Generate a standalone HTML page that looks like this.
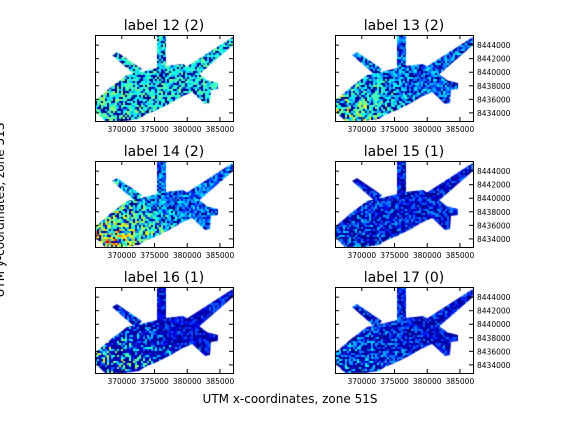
<!DOCTYPE html>
<html><head><meta charset="utf-8"><style>
html,body{margin:0;padding:0;background:#fff;}
#wrap{position:relative;width:576px;height:432px;overflow:hidden;}
canvas,svg{position:absolute;left:0;top:0;}
text{font-family:"DejaVu Sans","Liberation Sans",sans-serif;}
</style></head><body>
<div id="wrap">
<canvas id="cv" width="576" height="432"></canvas>
<svg id="sv" width="576" height="432"></svg>
</div>
<script>
// data
const panelTitles = ["label 12 (2)","label 13 (2)","label 14 (2)","label 15 (1)","label 16 (1)","label 17 (0)"];
const panelBase = [0.34, 0.22, 0.22, 0.12, 0.09, 0.12];
const panelGradient = [0.05, 0.20, 0.32, 0.06, 0.28, 0.10];
const panelDark = [0.30, 0.30, 0.25, 0.55, 0.60, 0.55];
const xTicks = [370000, 375000, 380000, 385000];
const yTicks = [8434000, 8436000, 8438000, 8440000, 8442000, 8444000];
const xDomain = [365900, 387000];
const yDomain = [8432800, 8445500];

const AW = 138, AH = 86;
const colX = [95, 335], rowY = [35, 161, 287];
const NS = "http://www.w3.org/2000/svg";
const sv = document.getElementById('sv');
const ctx = document.getElementById('cv').getContext('2d');
function el(tag, attrs, parent){const e=document.createElementNS(NS,tag);for(const k in attrs)e.setAttribute(k,attrs[k]);(parent||sv).appendChild(e);return e;}
function jet(v){v=Math.max(0,Math.min(1,v));
  const r=Math.max(0,Math.min(1,1.5-Math.abs(4*v-3))),g=Math.max(0,Math.min(1,1.5-Math.abs(4*v-2))),b=Math.max(0,Math.min(1,1.5-Math.abs(4*v-1)));
  return `rgb(${r*255|0},${g*255|0},${b*255|0})`;}
function hash(a,b,c){let h=(a*374761393+b*668265263+c*2147483647)|0;h=(h^(h>>>13))*1274126177|0;return ((h^(h>>>16))>>>0)/4294967296;}
const shapes=[
 [[0,66],[16,52],[32,40],[50,36],[62,33],[70,31],[88,29],[100,36],[112,45],[108,52],[95,58],[86,62],[76,68],[62,75],[50,80],[44,84],[30,86],[10,86],[0,76]],
 [[62,0],[71,0],[71,36],[62,36]],
 [[17,20],[22,17],[47,34],[41,41]],
 [[88,34],[133,5],[138,2],[138,10],[100,43]],
 [[95,41],[123,48],[123,54],[116,55],[115,68],[110,69],[95,55]]
];
function drawMap(ox,oy,p){
  ctx.save();ctx.beginPath();
  shapes.forEach(s=>{ctx.moveTo(ox+s[0][0],oy+s[0][1]);s.slice(1).forEach(q=>ctx.lineTo(ox+q[0],oy+q[1]));ctx.closePath();});
  ctx.clip();
  for(let y=0;y<AH;y+=2)for(let x=0;x<AW;x+=2){
    const n=hash(x,y,p+1), n2=hash(x+7,y+3,p+11);
    const ll=Math.max(0,1-(x/AW)-(1-y/AH)*0.8);
    let v=panelBase[p]+panelGradient[p]*ll*2.2*n2+(n-0.5)*0.3;
    if(n<panelDark[p]) v=n*0.15;
    ctx.fillStyle=jet(v);ctx.fillRect(ox+x,oy+y,2,2);
  }
  ctx.restore();
}
const sx=v=>(v-xDomain[0])/(xDomain[1]-xDomain[0])*AW;
const sy=v=>AH-(v-yDomain[0])/(yDomain[1]-yDomain[0])*AH;
for(let p=0;p<6;p++){
  const ox=colX[p%2], oy=rowY[Math.floor(p/2)];
  drawMap(ox,oy,p);
  const g=el('g',{});
  
  
  const t=el('text',{x:ox+AW/2,y:oy-5,'text-anchor':'middle','font-size':14},g);t.textContent=panelTitles[p];
  
  const fr=el('rect',{x:ox+0.5,y:oy+0.5,width:AW,height:AH,fill:'none',stroke:'#000','stroke-width':1},g);
  
  xTicks.forEach(v=>{const x=ox+sx(v);
    el('line',{x1:x,x2:x,y1:oy+AH,y2:oy+AH-4,stroke:'#000'},g);el('line',{x1:x,x2:x,y1:oy,y2:oy+4,stroke:'#000'},g);
    const tl=el('text',{x:x,y:oy+AH+11,'text-anchor':'middle','font-size':7.5},g);tl.textContent=v;
    });
  yTicks.forEach(v=>{const y=oy+sy(v);
    el('line',{x1:ox,x2:ox+4,y1:y,y2:y,stroke:'#000'},g);el('line',{x1:ox+AW,x2:ox+AW-4,y1:y,y2:y,stroke:'#000'},g);
    if(p%2===1){const tl=el('text',{x:ox+AW+4,y:y+3,'font-size':7.5},g);tl.textContent=v;
      }});
}
const xl=el('text',{x:290,y:403,'text-anchor':'middle','font-size':12});xl.textContent='UTM x-coordinates, zone 51S';

const yl=el('text',{x:0,y:0,'text-anchor':'middle','font-size':12,transform:'translate(4,210) rotate(-90)'});yl.textContent='UTM y-coordinates, zone 51S';

</script>
</body></html>
